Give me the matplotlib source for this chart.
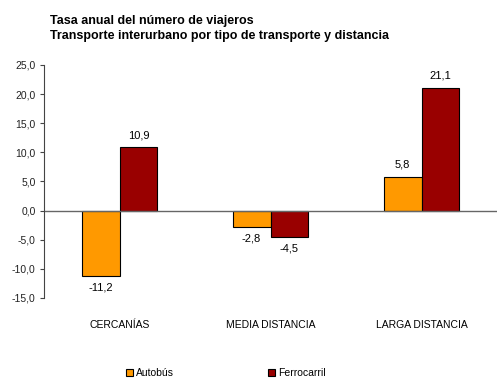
import matplotlib.pyplot as plt
import numpy as np
from matplotlib.patches import Patch

plt.rcParams['font.family'] = ['Liberation Sans', 'DejaVu Sans']

# data
categories = ['CERCANÍAS', 'MEDIA DISTANCIA', 'LARGA DISTANCIA']
autobus = [-11.2, -2.8, 5.8]
ferrocarril = [10.9, -4.5, 21.1]
yticks = [-15, -10, -5, 0, 5, 10, 15, 20, 25]

fig = plt.figure(figsize=(5, 3.82), dpi=100)
ax = fig.add_axes([0.088, 0.22, 0.906, 0.61])

x = np.arange(len(categories))
w = 0.25
c_bus = '#ff9900'
c_fer = '#990000'
ax.bar(x - w / 2, autobus, w, color=c_bus, edgecolor='#000000', linewidth=0.8)
ax.bar(x + w / 2, ferrocarril, w, color=c_fer, edgecolor='#000000', linewidth=0.8)

# value labels
for xi, v in zip(x - w / 2, autobus):
    off = 1.2 if v >= 0 else -1.2
    ax.text(xi, v + off, f'{v:.1f}'.replace('.', ','), ha='center',
            va='bottom' if v >= 0 else 'top', fontsize=8)
for xi, v in zip(x + w / 2, ferrocarril):
    off = 1.2 if v >= 0 else -1.2
    ax.text(xi, v + off, f'{v:.1f}'.replace('.', ','), ha='center',
            va='bottom' if v >= 0 else 'top', fontsize=8)

ax.set_xlim(-0.5, 2.5)
ax.set_ylim(-15, 25)
ax.set_yticks(yticks)
ax.set_yticklabels([f'{t:.1f}'.replace('.', ',') for t in yticks], fontsize=7.5, color='#222222')
ax.tick_params(axis='y', length=3, width=0.8, color='#444444', pad=3)
ax.set_xticks([])
ax.axhline(0, color='#666666', linewidth=1)
for s in ['top', 'right', 'bottom']:
    ax.spines[s].set_visible(False)
ax.spines['left'].set_color('#444444')

for xi, c in zip(x, categories):
    ax.text(xi, -0.115, c, transform=ax.get_xaxis_transform(), ha='center',
            va='center', fontsize=7.5)

fig.text(0.1, 0.945, 'Tasa anual del número de viajeros', fontsize=9,
         fontweight='bold', va='center')
fig.text(0.1, 0.905, 'Transporte interurbano por tipo de transporte y distancia',
         fontsize=9, fontweight='bold', va='center')

handles = [Patch(facecolor=c_bus, edgecolor='#000000', linewidth=0.8),
           Patch(facecolor=c_fer, edgecolor='#000000', linewidth=0.8)]
fig.legend(handles, ['Autobús', 'Ferrocarril'], loc='center',
           bbox_to_anchor=(0.452, 0.024), ncol=2, frameon=False, fontsize=7.5,
           handlelength=0.7, handleheight=0.7, handletextpad=0.3, columnspacing=9)

fig.savefig('out.png', dpi=100)
